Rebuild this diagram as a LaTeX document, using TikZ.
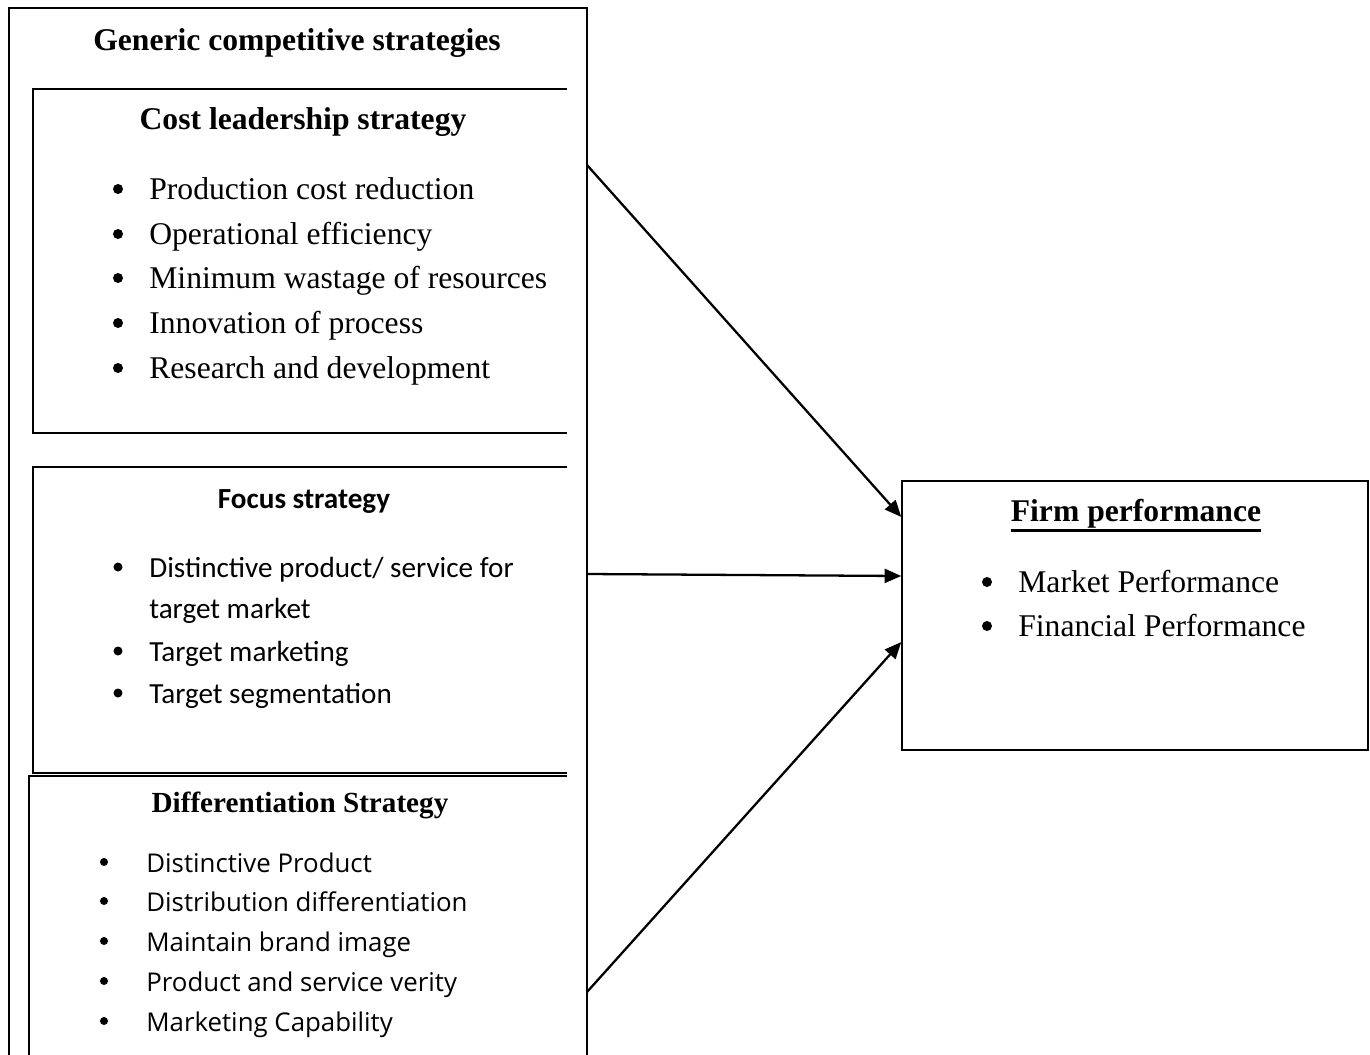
\documentclass[tikz,border=0pt]{standalone}
\usepackage{fontspec}
\setmainfont{Liberation Serif}
\newfontfamily\calibri{Carlito}
\newfontfamily\segoe{Open Sans}
\usetikzlibrary{arrows.meta}

\tikzset{
  frame/.style={line width=1.1pt},
  head/.style={anchor=mid, inner sep=0pt, font=\bfseries\fontsize{18}{22}\selectfont},
  item/.style={anchor=mid west, inner sep=0pt},
  dot/.style={circle, fill, inner sep=0pt, minimum size=#1},
  dot/.default=0.2cm,
  arr/.style={line width=1.3pt, -{Triangle[length=9.5pt,width=8pt]}},
}

\begin{document}
\begin{tikzpicture}[x=0.02cm, y=-0.02cm]
	\useasboundingbox (0,0) rectangle (1370,1055);
	%\draw[help lines] (0,0) grid[step=100] (1370,1055);

	% outer frame, runs off the bottom
	\draw[frame] (9,1070) -- (9,8) -- (587,8) -- (587,1070);
	\node[head] (generic) at (297,46) {Generic competitive strategies};

	% cost leadership, open on the right
	\draw[frame] (567,89) -- (33,89) -- (33,433) -- (567,433);
	\node[head] (cost) at (303,125) {Cost leadership strategy};
	\foreach \y/\t [count=\i] in {195/Production cost reduction, 240/Operational efficiency,
	    284/Minimum wastage of resources, 329/Innovation of process, 374/Research and development} {
		\node[dot] (cd\i) at (118,\y-6) {};
		\node[item, font=\fontsize{18}{22}\selectfont] (ct\i) at (149,\y) {\t};
	}

	% focus
	\draw[frame] (567,467) -- (33,467) -- (33,773) -- (567,773);
	\node[head, font=\calibri\bfseries\fontsize{16.6}{20}\selectfont] (focus) at (304,504) {Focus strategy};
	\foreach \y/\t [count=\i] in {573/{Distinctive product/ service for}, 657/Target marketing, 699/Target segmentation} {
		\node[dot=0.18cm] (fd\i) at (118,\y-6) {};
		\node[item, font=\calibri\fontsize{16.6}{20}\selectfont] (ft\i) at (149,\y) {\t};
	}
	\node[item, font=\calibri\fontsize{16.6}{20}\selectfont] (ft0) at (149,614) {target market};

	% differentiation
	\draw[frame] (567,776) -- (29,776) -- (29,1070);
	\node[head, font=\bfseries\fontsize{16.6}{20}\selectfont] (diff) at (300,808) {Differentiation Strategy};
	\foreach \y/\t [count=\i] in {868/Distinctive Product, 907/Distribution differentiation,
	    947/Maintain brand image, 987/Product and service verity, 1027/Marketing Capability} {
		\node[dot=0.16cm] (dd\i) at (104,\y-6) {};
		\node[item, font=\segoe\fontsize{14.7}{18}\selectfont] (dt\i) at (146,\y) {\t};
	}

	% firm performance
	\node[draw, line width=0.9pt, minimum width=9.32cm, minimum height=5.38cm] (firm) at (1135,615.5) {};
	\node[head] (perf) at (1136,517) {Firm performance};
	\draw[line width=1.7pt] ([yshift=-1.5pt]perf.south west) -- ([yshift=-1.5pt]perf.south east);
	\foreach \y/\t [count=\i] in {588/Market Performance, 632/Financial Performance} {
		\node[dot] (pd\i) at (987,\y-6) {};
		\node[item, font=\fontsize{18}{22}\selectfont] (pt\i) at (1018,\y) {\t};
	}

	% arrows into firm performance
	\coordinate (from1) at (587,165);
	\coordinate (from2) at (587,574);
	\coordinate (from3) at (587,992);
	\draw[arr] (from1) -- (firm.west |- 0,517);
	\draw[arr] (from2) -- (firm.west |- 0,576);
	\draw[arr] (from3) -- (firm.west |- 0,642);
\end{tikzpicture}
\end{document}
